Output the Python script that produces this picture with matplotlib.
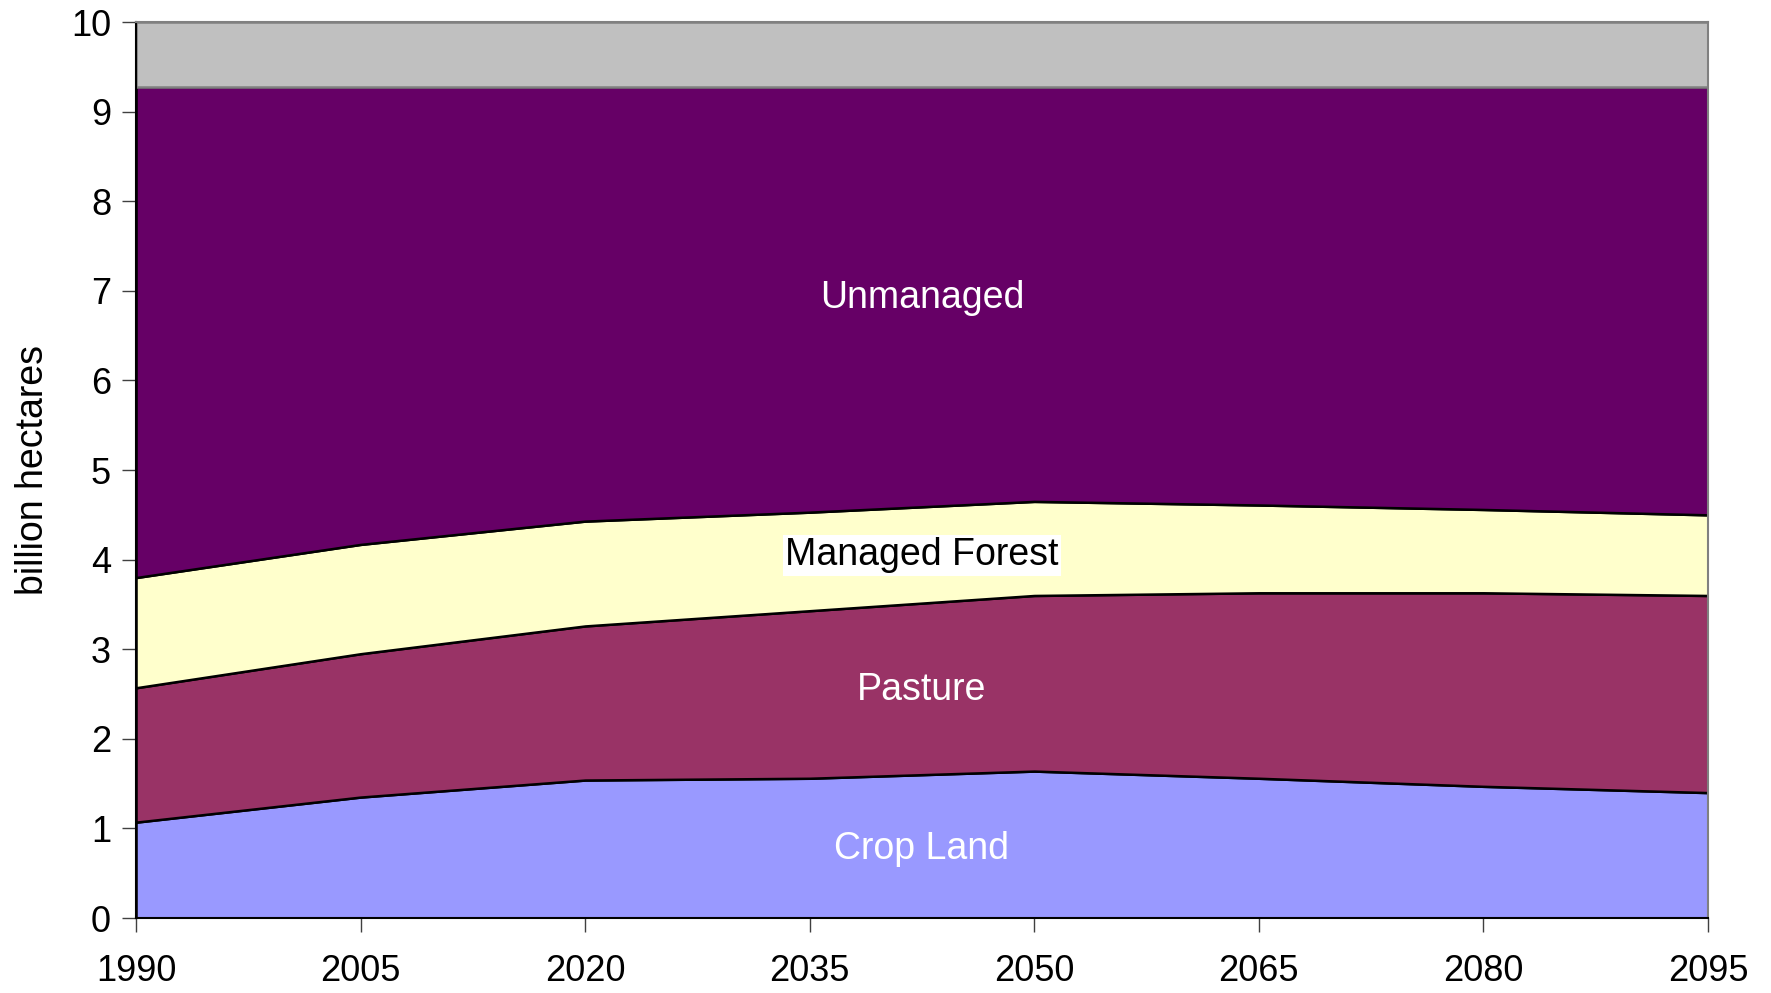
import numpy as np
import matplotlib.pyplot as plt

plt.rcParams['font.family'] = ['Liberation Sans', 'DejaVu Sans']

# Land use, billion hectares
years = [1990, 2005, 2020, 2035, 2050, 2065, 2080, 2095]
crop_land = [1.07, 1.35, 1.54, 1.56, 1.64, 1.56, 1.47, 1.40]
pasture_top = [2.57, 2.95, 3.26, 3.43, 3.60, 3.63, 3.63, 3.60]
forest_top = [3.80, 4.17, 4.43, 4.53, 4.65, 4.61, 4.56, 4.50]
unmanaged_top = [9.28, 9.28, 9.28, 9.28, 9.28, 9.28, 9.28, 9.28]
total = [10, 10, 10, 10, 10, 10, 10, 10]

pasture = np.array(pasture_top) - np.array(crop_land)
forest = np.array(forest_top) - np.array(pasture_top)
unmanaged = np.array(unmanaged_top) - np.array(forest_top)
other = np.array(total) - np.array(unmanaged_top)

colors = ["#9999FF", "#993366", "#FFFFCC", "#660066", "#C0C0C0"]

fig = plt.figure(figsize=(17.71, 9.93), dpi=100)
ax = fig.add_axes([0.0768, 0.0755, 0.8876, 0.9023])

polys = ax.stackplot(years, crop_land, pasture, forest, unmanaged, other,
                     colors=colors, edgecolor="black", linewidth=1.8)
polys[-1].set_edgecolor("#808080")

ax.set_xlim(1990, 2095)
ax.set_ylim(0, 10)
ax.set_xticks(years)
ax.set_yticks(range(0, 11))
ax.tick_params(axis="both", direction="out", labelsize=26, length=10,
               color="#404040", width=1)
ax.tick_params(axis="x", pad=16)
ax.tick_params(axis="y", pad=8)
for s in ax.spines.values():
    s.set_color("#808080")
    s.set_linewidth(1.5)
ax.spines["left"].set_color("black")
ax.spines["bottom"].set_color("black")

ax.set_ylabel("billion hectares", fontsize=27, labelpad=14)

xc = (years[0] + years[-1]) / 2
ax.text(xc, 6.92, "Unmanaged", color="white", fontsize=27, ha="center", va="center")
ax.text(xc, 4.05, "Managed Forest", color="black", fontsize=27, ha="center", va="center",
        bbox=dict(facecolor="white", edgecolor="none", pad=2))
ax.text(xc, 2.54, "Pasture", color="white", fontsize=27, ha="center", va="center")
ax.text(xc, 0.77, "Crop Land", color="white", fontsize=27, ha="center", va="center")

fig.savefig("out.png", dpi=100)
plt.close(fig)
